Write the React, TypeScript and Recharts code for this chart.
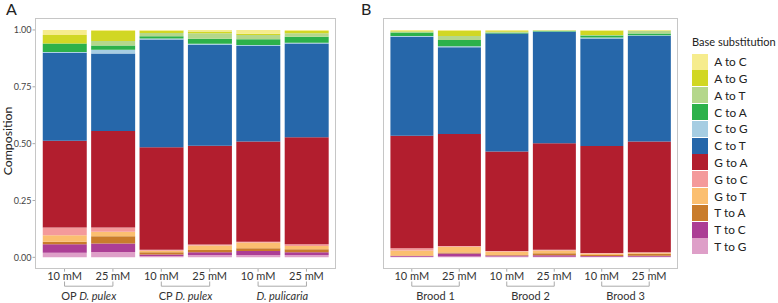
import { Bar, BarChart, Legend, XAxis, YAxis } from "recharts";

// stacking order, bottom to top
const SUBSTITUTIONS = [
  "T to G", "T to C", "T to A", "G to T", "G to C", "G to A",
  "C to T", "C to G", "C to A", "A to T", "A to G", "A to C",
];

const COLORS: Record<string, string> = {
  "A to C": "#F6EC8D",
  "A to G": "#D1D724",
  "A to T": "#B4D78B",
  "C to A": "#2CB14A",
  "C to G": "#A6CDE2",
  "C to T": "#2667AA",
  "G to A": "#B21E2E",
  "G to C": "#F49A9B",
  "G to T": "#FBBF70",
  "T to A": "#C97C2B",
  "T to C": "#AC3E95",
  "T to G": "#DE9FC8",
};

const DOSES = ["10 mM", "25 mM", "10 mM", "25 mM", "10 mM", "25 mM"];
const GROUPS_A = [
  { plain: "OP ", italic: "D. pulex" },
  { plain: "CP ", italic: "D. pulex" },
  { plain: "", italic: "D. pulicaria" },
];
const GROUPS_B = [
  { plain: "Brood 1", italic: "" },
  { plain: "Brood 2", italic: "" },
  { plain: "Brood 3", italic: "" },
];
const Y_TICKS = [0, 0.25, 0.5, 0.75, 1];

// proportions per bar (10/25 mM pairs)
const PANEL_A: Record<string, number[]> = {
  "T to G": [0.020, 0.023, 0.006, 0.010, 0.010, 0.010],
  "T to C": [0.038, 0.038, 0.007, 0.012, 0.018, 0.012],
  "T to A": [0.010, 0.032, 0.009, 0.010, 0.012, 0.013],
  "G to T": [0.029, 0.020, 0.007, 0.020, 0.025, 0.015],
  "G to C": [0.034, 0.018, 0.004, 0.004, 0.004, 0.007],
  "G to A": [0.382, 0.425, 0.451, 0.435, 0.440, 0.471],
  "C to T": [0.387, 0.341, 0.474, 0.443, 0.421, 0.412],
  "C to G": [0.003, 0.016, 0.004, 0.005, 0.004, 0.004],
  "C to A": [0.038, 0.019, 0.010, 0.022, 0.025, 0.026],
  "A to T": [0.000, 0.019, 0.015, 0.025, 0.019, 0.016],
  "A to G": [0.037, 0.044, 0.010, 0.007, 0.005, 0.010],
  "A to C": [0.022, 0.005, 0.003, 0.007, 0.017, 0.004],
};

const PANEL_B: Record<string, number[]> = {
  "T to G": [0.003, 0.004, 0.004, 0.003, 0.003, 0.003],
  "T to C": [0.003, 0.013, 0.004, 0.006, 0.003, 0.004],
  "T to A": [0.002, 0.004, 0.002, 0.009, 0.004, 0.009],
  "G to T": [0.022, 0.025, 0.016, 0.012, 0.007, 0.004],
  "G to C": [0.010, 0.004, 0.002, 0.003, 0.002, 0.002],
  "G to A": [0.495, 0.492, 0.437, 0.469, 0.471, 0.488],
  "C to T": [0.435, 0.382, 0.519, 0.490, 0.472, 0.465],
  "C to G": [0.003, 0.004, 0.001, 0.001, 0.005, 0.002],
  "C to A": [0.016, 0.028, 0.003, 0.004, 0.009, 0.007],
  "A to T": [0.004, 0.018, 0.004, 0.001, 0.002, 0.012],
  "A to G": [0.002, 0.022, 0.003, 0.001, 0.019, 0.002],
  "A to C": [0.005, 0.004, 0.005, 0.001, 0.003, 0.002],
};

const FONT = "Lato, 'Open Sans', sans-serif";
const FRAME = "#c6c6c6";
const HEIGHT = 303;
const PLOT_TOP = 18.6;
const PLOT_BOTTOM = 268.7;

const buildRows = (values: Record<string, number[]>) =>
  DOSES.map((dose, i) => {
    const row: Record<string, number | string> = { id: i, dose };
    SUBSTITUTIONS.forEach((s) => (row[s] = values[s][i]));
    return row;
  });

const makeTick = (groups: typeof GROUPS_A, band: number) => (props: any) => {
  const { x, y, payload } = props;
  const i = Number(payload.value);
  const g = groups[Math.floor(i / 2)];
  return (
    <g>
      <text x={x} y={y + 8} textAnchor="middle" fontSize={11} fill="#333" fontFamily={FONT}>
        {DOSES[i]}
      </text>
      <line x1={x} x2={x} y1={y + 9.8} y2={y + 14.5} stroke="#aaa" />
      {i % 2 === 0 && (
        <>
          <line x1={x} x2={x + band} y1={y + 14.5} y2={y + 14.5} stroke="#aaa" />
          <text x={x + band / 2} y={y + 28} textAnchor="middle" fontSize={11} fill="#333" fontFamily={FONT}>
            {g.plain}
            {g.italic && <tspan fontStyle="italic">{g.italic}</tspan>}
          </text>
        </>
      )}
    </g>
  );
};

const LegendBox = () => (
  <div style={{ fontFamily: FONT, color: "#222" }}>
    <div style={{ fontSize: 11, lineHeight: "12px", height: 17.3, whiteSpace: "nowrap" }}>
      Base substitution
    </div>
    {[...SUBSTITUTIONS].reverse().map((s) => (
      <div key={s} style={{ display: "flex", alignItems: "center", height: 16.8 }}>
        <span style={{ width: 16, height: 16, background: COLORS[s], display: "inline-block" }} />
        <span style={{ marginLeft: 6.3, fontSize: 11.8, whiteSpace: "nowrap" }}>{s}</span>
      </div>
    ))}
  </div>
);

type PanelProps = {
  values: Record<string, number[]>;
  groups: typeof GROUPS_A;
  left: number;
  width: number;
  yAxisWidth: number;
  plotWidth: number;
  showYLabels: boolean;
  legend?: boolean;
};

const Panel = ({ values, groups, left, width, yAxisWidth, plotWidth, showYLabels, legend }: PanelProps) => {
  const data = buildRows(values);
  const pad = (plotWidth * 0.1) / 6.2;
  const band = (plotWidth - 2 * pad) / 6;
  const right = width - yAxisWidth - plotWidth;
  return (
    <div style={{ position: "absolute", left, top: 0, width, height: HEIGHT }}>
      <BarChart
        width={width}
        height={HEIGHT}
        data={data}
        margin={{ top: PLOT_TOP, right, bottom: 0, left: 0 }}
        barCategoryGap="5%"
      >
        <XAxis
          dataKey="id"
          type="category"
          height={HEIGHT - PLOT_BOTTOM}
          padding={{ left: pad, right: pad }}
          axisLine={false}
          tickSize={3}
          tickMargin={0}
          tickLine={{ stroke: "#aaa" }}
          interval={0}
          tick={makeTick(groups, band)}
        />
        <YAxis
          type="number"
          width={yAxisWidth}
          domain={[-0.05, 1.05]}
          allowDataOverflow
          ticks={Y_TICKS}
          tickFormatter={(v: number) => v.toFixed(2)}
          axisLine={false}
          tickSize={3}
          tickMargin={1}
          tickLine={{ stroke: "#aaa" }}
          tick={showYLabels ? { fontSize: 9, fill: "#444", fontFamily: FONT } : false}
        />
        {SUBSTITUTIONS.map((s) => (
          <Bar key={s} dataKey={s} stackId="a" fill={COLORS[s]} isAnimationActive={false} />
        ))}
        {legend && (
          <Legend
            layout="horizontal"
            verticalAlign="middle"
            align="center"
            wrapperStyle={{ left: yAxisWidth + plotWidth + 14.3, top: 36, width: 90 }}
            content={() => <LegendBox />}
          />
        )}
      </BarChart>
      <div
        style={{
          position: "absolute",
          left: yAxisWidth - 0.5,
          top: PLOT_TOP - 0.5,
          width: plotWidth + 1,
          height: PLOT_BOTTOM - PLOT_TOP + 1,
          border: `1px solid ${FRAME}`,
          boxSizing: "border-box",
          pointerEvents: "none",
        }}
      />
    </div>
  );
};

export default function App() {
  return (
    <div
      style={{
        position: "absolute",
        left: 0,
        top: 0,
        width: 778,
        height: HEIGHT,
        background: "#fff",
        fontFamily: FONT,
        overflow: "hidden",
      }}
    >
      <div style={{ position: "absolute", left: 6, top: 1, fontSize: 16, lineHeight: "16px", color: "#222" }}>A</div>
      <div style={{ position: "absolute", left: 361, top: 1, fontSize: 16, lineHeight: "16px", color: "#222" }}>B</div>
      <div
        style={{
          position: "absolute",
          left: 7,
          top: 141,
          fontSize: 12.3,
          color: "#222",
          whiteSpace: "nowrap",
          transform: "translate(-50%, -50%) rotate(-90deg)",
        }}
      >
        Composition
      </div>
      <Panel values={PANEL_A} groups={GROUPS_A} left={0} width={340} yAxisWidth={35.5} plotWidth={300} showYLabels />
      <Panel values={PANEL_B} groups={GROUPS_B} left={378} width={400} yAxisWidth={5.3} plotWidth={294.4} showYLabels={false} legend />
    </div>
  );
}
